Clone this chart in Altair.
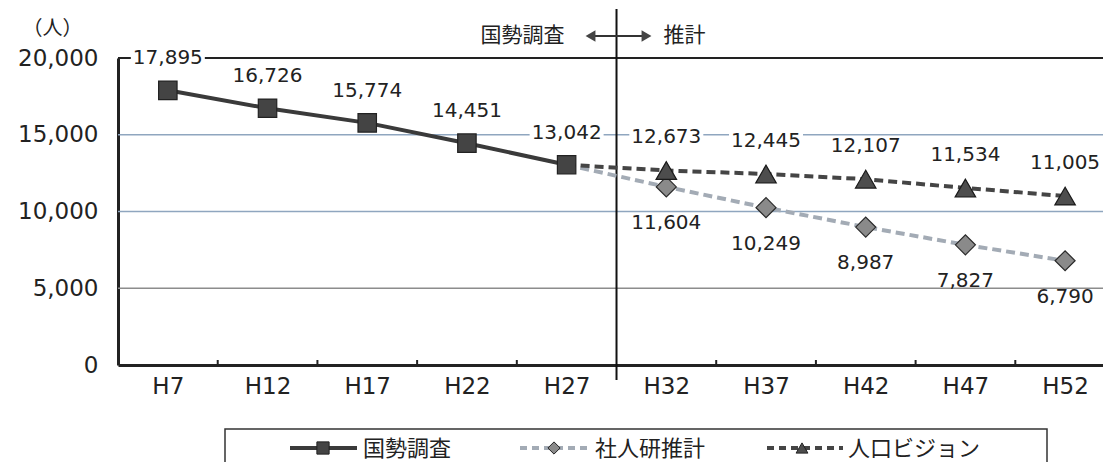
import altair as alt
import pandas as pd

# ---- data ----
years = ["H7", "H12", "H17", "H22", "H27", "H32", "H37", "H42", "H47", "H52"]
census_years = ["H7", "H12", "H17", "H22", "H27"]
census_vals = [17895, 16726, 15774, 14451, 13042]
proj_years = ["H27", "H32", "H37", "H42", "H47", "H52"]
ipss_vals = [13042, 11604, 10249, 8987, 7827, 6790]
vision_vals = [13042, 12673, 12445, 12107, 11534, 11005]
series_names = ["国勢調査", "社人研推計", "人口ビジョン"]
y_ticks = [0, 5000, 10000, 15000, 20000]

census = pd.DataFrame({"year": census_years, "v": census_vals})
ipss = pd.DataFrame({"year": proj_years, "v": ipss_vals})
vision = pd.DataFrame({"year": proj_years, "v": vision_vals})
ipss_lab = ipss.iloc[1:]
vision_lab = vision.iloc[1:]

W, H = 985, 307
HALF = 49.8
NUM_FONT = "DejaVu Sans"
JP_FONT = "Noto Sans CJK JP"
DARK = "#3a3a3a"

xscale = alt.Scale(type="point", domain=years, padding=0.44, align=0.568)
yscale = alt.Scale(domain=[0, 20000], nice=False)
xaxis = alt.Axis(labelAngle=0, ticks=False, domain=True, domainColor="#222",
                 domainWidth=3, labelFont=NUM_FONT, labelFontSize=23,
                 labelColor="#222", labelPadding=10, title=None, grid=False)
yaxis = alt.Axis(values=y_ticks, format=",.0f", grid=False, ticks=False, domain=True,
                 domainColor="#222", domainWidth=3, labelFont=NUM_FONT,
                 labelFontSize=23, labelColor="#222", labelPadding=20,
                 title="（人）", titleAngle=0, titleX=-66, titleY=-30,
                 titleFont=JP_FONT, titleFontSize=20, titleFontWeight="normal",
                 titleAlign="center", titleBaseline="middle", titleColor="#222")

X = alt.X("year:N", scale=xscale, axis=xaxis)
Y = alt.Y("v:Q", scale=yscale, axis=yaxis)

layers = []

# gridlines
layers.append(alt.Chart(pd.DataFrame({"v": [10000, 15000]})).mark_rule(
    color="#8fa6bf", strokeWidth=1.5).encode(y=Y))
layers.append(alt.Chart(pd.DataFrame({"v": [5000]})).mark_rule(
    color="#8c8c8c", strokeWidth=1.5).encode(y=Y))
layers.append(alt.Chart(pd.DataFrame({"v": [20000]})).mark_rule(
    color="#222", strokeWidth=2).encode(y=Y))

# divider between census and projection
div = pd.DataFrame({"year": ["H32"]})
layers.append(alt.Chart(div).mark_rule(color="#111", strokeWidth=2, xOffset=-HALF).encode(
    x=X, y=alt.value(-49), y2=alt.value(322)))

# small x ticks between categories
tick_years = [y for y in years[1:] if y != "H32"]
layers.append(alt.Chart(pd.DataFrame({"year": tick_years})).mark_rule(
    color="#222", strokeWidth=2, xOffset=-HALF).encode(
    x=X, y=alt.value(H), y2=alt.value(H - 5)))

# lines
layers.append(alt.Chart(ipss).mark_line(color="#a3abb5", strokeWidth=4,
                                        strokeDash=[9, 5]).encode(x=X, y=Y))
layers.append(alt.Chart(vision).mark_line(color="#454545", strokeWidth=4,
                                          strokeDash=[9, 5]).encode(x=X, y=Y))
layers.append(alt.Chart(census).mark_line(color=DARK, strokeWidth=4).encode(x=X, y=Y))

# markers
layers.append(alt.Chart(ipss_lab).mark_point(shape="diamond", filled=True, size=400,
                                             color="#8a8a8a", stroke="#2a2a2a",
                                             strokeWidth=1.2, opacity=1).encode(x=X, y=Y))
layers.append(alt.Chart(vision_lab).mark_point(shape="triangle-up", filled=True, size=420,
                                               color="#4d4d4d", stroke="#1a1a1a",
                                               strokeWidth=1.2, opacity=1).encode(x=X, y=Y))
layers.append(alt.Chart(census).mark_point(shape="square", filled=True, size=340,
                                           color="#444444", stroke="#222",
                                           strokeWidth=1.2, opacity=1).encode(x=X, y=Y))

# labels
BG = "M-1,-0.26H1V0.26H-1Z"
for df, dy, bg in [(census, -32, True), (vision_lab, -33, True), (ipss_lab, 36, False)]:
    if bg:
        layers.append(alt.Chart(df).mark_point(shape=BG, filled=True, size=5476,
                                               color="white", opacity=1,
                                               yOffset=dy).encode(x=X, y=Y))
    layers.append(alt.Chart(df).mark_text(font=NUM_FONT, fontSize=20, color="#222",
                                          yOffset=dy).encode(
        x=X, y=Y, text=alt.Text("v:Q", format=",")))

# top annotation
layers.append(alt.Chart(pd.DataFrame({"year": ["H32"], "t": [series_names[0]]})).mark_text(
    font=JP_FONT, fontSize=21, color="#222", align="right", baseline="middle",
    xOffset=-HALF - 52).encode(x=X, y=alt.value(-22), text="t:N"))
layers.append(alt.Chart(pd.DataFrame({"year": ["H32"], "t": ["推計"]})).mark_text(
    font=JP_FONT, fontSize=21, color="#222", align="left", baseline="middle",
    xOffset=-HALF + 47).encode(x=X, y=alt.value(-22), text="t:N"))
layers.append(alt.Chart(div).mark_rule(color="#333", strokeWidth=2,
                                       xOffset=-HALF - 24, x2Offset=-HALF + 28).encode(
    x=X, x2=alt.X2("year"), y=alt.value(-22)))
layers.append(alt.Chart(div).mark_point(shape="triangle-left", filled=True, size=130,
                                        color="#444", opacity=1, xOffset=-HALF - 26).encode(
    x=X, y=alt.value(-22)))
layers.append(alt.Chart(div).mark_point(shape="triangle-right", filled=True, size=130,
                                        color="#444", opacity=1, xOffset=-HALF + 30).encode(
    x=X, y=alt.value(-22)))

# legend (manual)
LY = 390
layers.append(alt.Chart(pd.DataFrame({"a": [0]})).mark_rect(
    fill="white", stroke="#333", strokeWidth=1.5).encode(
    x=alt.value(107), x2=alt.value(929), y=alt.value(371), y2=alt.value(430)))
leg_specs = [
    (172, 239, 205, 245, DARK, None, "square", "#444444", 150),
    (402, 469, 436, 477, "#a3abb5", [7, 5], "diamond", "#8a8a8a", 150),
    (649, 725, 684, 730, "#454545", [7, 5], "triangle-up", "#4d4d4d", 140),
]
for i, (x1, x2, xm, xt, lc, dash, shp, fc, sz) in enumerate(leg_specs):
    one = pd.DataFrame({"name": [series_names[i]]})
    rule_kw = dict(color=lc, strokeWidth=4)
    if dash:
        rule_kw["strokeDash"] = dash
    layers.append(alt.Chart(one).mark_rule(**rule_kw).encode(
        x=alt.value(x1), x2=alt.value(x2), y=alt.value(LY)))
    layers.append(alt.Chart(one).mark_point(shape=shp, filled=True, size=sz, color=fc,
                                            stroke="#222", strokeWidth=1, opacity=1).encode(
        x=alt.value(xm), y=alt.value(LY)))
    layers.append(alt.Chart(one).mark_text(font=JP_FONT, fontSize=22, color="#222",
                                           align="left", baseline="middle").encode(
        x=alt.value(xt), y=alt.value(LY + 1), text="name:N"))

chart = alt.layer(*layers).properties(
    width=W, height=H,
    padding={"left": 110, "top": 50, "right": 0, "bottom": 97},
    autosize=alt.AutoSizeParams(type="none"),
).configure_view(stroke=None).configure(background="white")

chart.save("out.html", embed_options={"renderer": "svg", "actions": False})
